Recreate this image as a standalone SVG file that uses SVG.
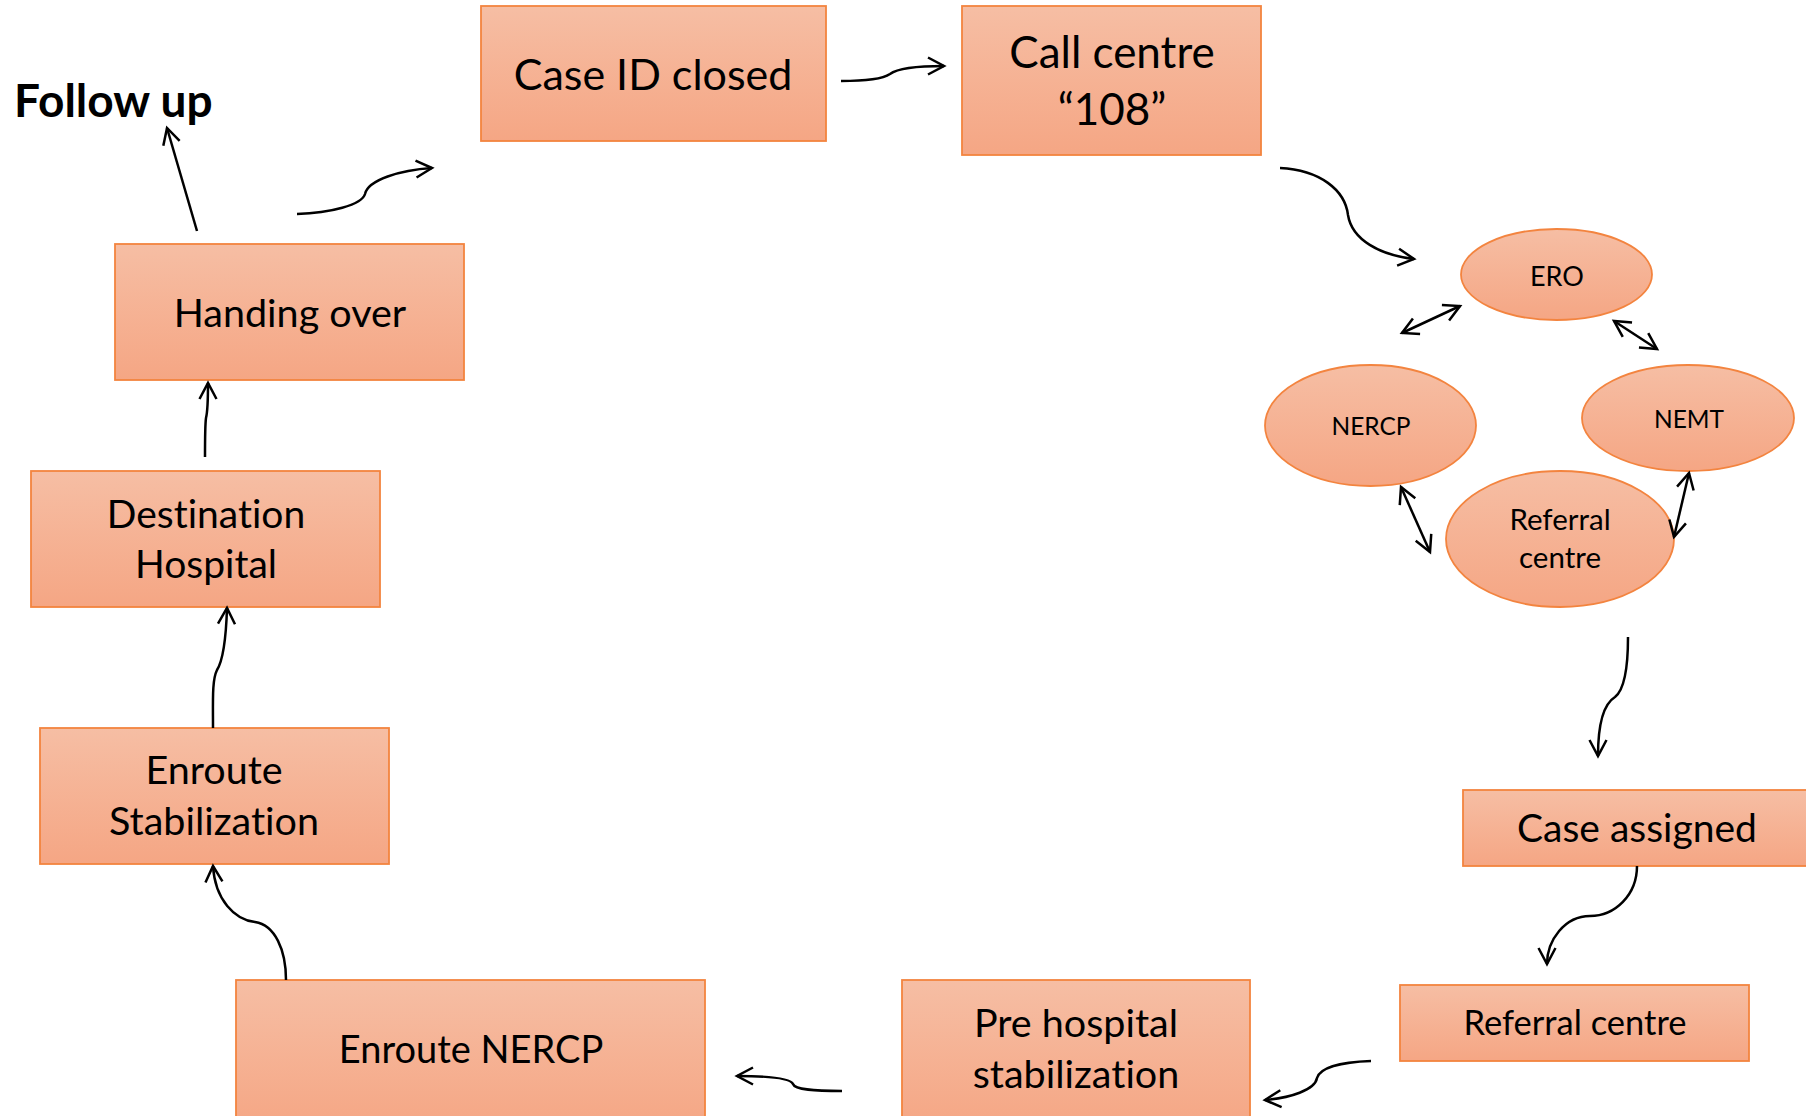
<svg xmlns="http://www.w3.org/2000/svg" width="1806" height="1116" viewBox="0 0 1806 1116">
<defs>
<linearGradient id="g" x1="0" y1="0" x2="0" y2="1">
<stop offset="0" stop-color="#F6BEA4"/>
<stop offset="1" stop-color="#F5A684"/>
</linearGradient>
<marker id="ah" markerUnits="userSpaceOnUse" markerWidth="24" markerHeight="24" refX="18" refY="10" orient="auto-start-reverse" overflow="visible">
<path d="M2,1.5 L18,10 L2,18.5" fill="none" stroke="#000" stroke-width="2.5" stroke-linejoin="miter"/>
</marker>
<style>
.box{fill:url(#g);stroke:#F3843F;stroke-width:1.8}
.t{font-family:Lato,"Liberation Sans",sans-serif;fill:#000;text-anchor:middle;font-variant-ligatures:none}
.c{fill:none;stroke:#000;stroke-width:2.5}
</style>
</defs>
<rect width="1806" height="1116" fill="#fff"/>

<g id="follow-up"><text class="t" x="14" y="117" style="text-anchor:start;font-weight:bold" font-size="46">Follow up</text></g>

<g id="case-id-closed"><rect class="box" x="481" y="6" width="345" height="135"/><text class="t" x="653" y="90" font-size="43">Case ID closed</text></g>
<g id="call-centre"><rect class="box" x="962" y="6" width="299" height="149"/><text class="t" x="1112" y="68" font-size="44">Call centre</text><text class="t" x="1112" y="125" font-size="44">“108”</text></g>
<g id="handing-over"><rect class="box" x="115" y="244" width="349" height="136"/><text class="t" x="290" y="327" font-size="39.5">Handing over</text></g>
<g id="destination-hospital"><rect class="box" x="31" y="471" width="349" height="136"/><text class="t" x="206" y="528" font-size="39">Destination</text><text class="t" x="206" y="578" font-size="39">Hospital</text></g>
<g id="enroute-stabilization"><rect class="box" x="40" y="728" width="349" height="136"/><text class="t" x="214" y="784" font-size="39.5">Enroute</text><text class="t" x="214" y="835" font-size="39.5">Stabilization</text></g>
<g id="enroute-nercp"><rect class="box" x="236" y="980" width="469" height="150"/><text class="t" x="471" y="1063" font-size="38">Enroute NERCP</text></g>
<g id="pre-hospital"><rect class="box" x="902" y="980" width="348" height="150"/><text class="t" x="1076" y="1037" font-size="39.5">Pre hospital</text><text class="t" x="1076" y="1088" font-size="39.5">stabilization</text></g>
<g id="referral-centre-box"><rect class="box" x="1400" y="985" width="349" height="76"/><text class="t" x="1575" y="1035" font-size="34.5">Referral centre</text></g>
<g id="case-assigned"><rect class="box" x="1463" y="790" width="350" height="76"/><text class="t" x="1637" y="842" font-size="39">Case assigned</text></g>

<g id="ero"><ellipse class="box" cx="1556.5" cy="274.5" rx="95.5" ry="45.5"/><text class="t" x="1557" y="286" font-size="27">ERO</text></g>
<g id="nercp"><ellipse class="box" cx="1370.5" cy="425.5" rx="105.5" ry="60.5"/><text class="t" x="1371" y="435" font-size="24.5">NERCP</text></g>
<g id="nemt"><ellipse class="box" cx="1688" cy="418" rx="106" ry="53"/><text class="t" x="1689" y="428" font-size="24.5">NEMT</text></g>
<g id="referral-centre-ellipse"><ellipse class="box" cx="1560" cy="539" rx="114" ry="68"/><text class="t" x="1560" y="530" font-size="29.5">Referral</text><text class="t" x="1560" y="568" font-size="29.5">centre</text></g>

<g id="connectors">
<path class="c" d="M197,231 L167,128" marker-end="url(#ah)"/>
<path class="c" d="M297,214 C330,213 362,205 365,194 C368,180 400,170 432,168" marker-end="url(#ah)"/>
<path class="c" d="M841,81 C870,81 884,78 890,74 C898,68 915,66 944,66" marker-end="url(#ah)"/>
<path class="c" d="M1280,168 C1320,170 1345,190 1348,215 C1352,240 1380,255 1414,259" marker-end="url(#ah)"/>
<path class="c" d="M1402,333 L1460,306" marker-start="url(#ah)" marker-end="url(#ah)"/>
<path class="c" d="M1614,321 L1657,349" marker-start="url(#ah)" marker-end="url(#ah)"/>
<path class="c" d="M1401,487 L1430,552" marker-start="url(#ah)" marker-end="url(#ah)"/>
<path class="c" d="M1689,473 L1674,537" marker-start="url(#ah)" marker-end="url(#ah)"/>
<path class="c" d="M1628,637 C1628,670 1624,690 1615,697 C1602,705 1598,730 1598,756" marker-end="url(#ah)"/>
<path class="c" d="M1637,866 C1637,895 1615,916 1590,916 C1565,916 1547,940 1547,964" marker-end="url(#ah)"/>
<path class="c" d="M1371,1061 C1340,1062 1320,1068 1317,1078 C1315,1090 1290,1098 1265,1100" marker-end="url(#ah)"/>
<path class="c" d="M842,1091 C815,1091 795,1090 793,1084 C790,1077 760,1076 737,1076" marker-end="url(#ah)"/>
<path class="c" d="M286,980 C286,950 275,925 255,922 C235,920 215,900 213,866" marker-end="url(#ah)"/>
<path class="c" d="M213,728 C213,700 212,680 217,670 C222,662 226,640 227,608" marker-end="url(#ah)"/>
<path class="c" d="M205,457 C205,440 205,425 206,418 C208,410 208,395 208,383" marker-end="url(#ah)"/>
</g>
</svg>
